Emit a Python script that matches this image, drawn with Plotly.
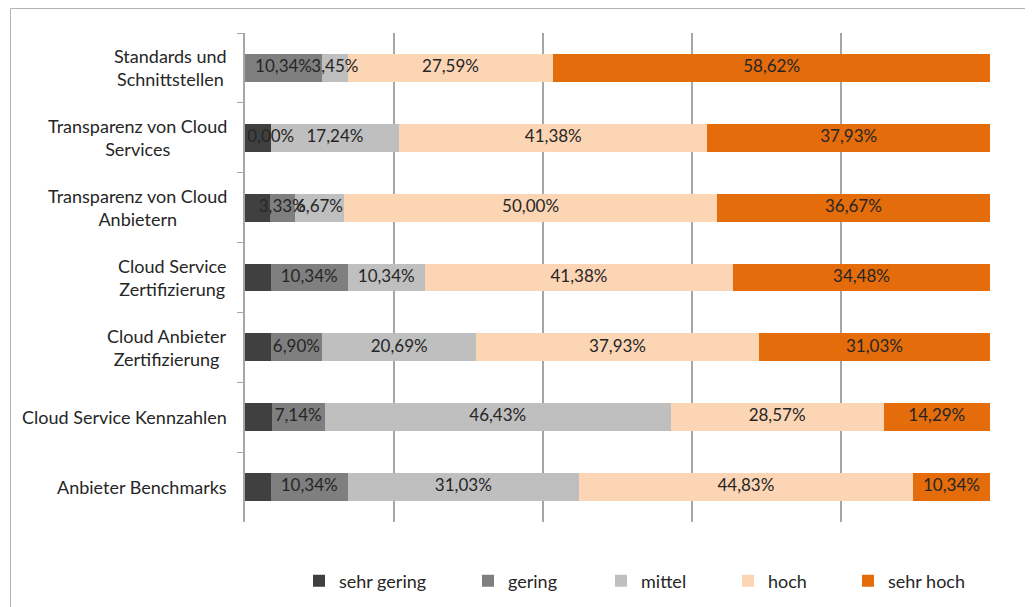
import plotly.graph_objects as go

categories = [
    "Standards und<br>Schnittstellen",
    "Transparenz von Cloud<br>Services",
    "Transparenz von Cloud<br>Anbietern",
    "Cloud Service<br>Zertifizierung",
    "Cloud Anbieter<br>Zertifizierung",
    "Cloud Service Kennzahlen",
    "Anbieter Benchmarks",
]
series_names = ["sehr gering", "gering", "mittel", "hoch", "sehr hoch"]
sehr_gering = [0.00, 3.45, 3.33, 3.45, 3.45, 3.57, 3.45]
gering = [10.34, 0.00, 3.33, 10.34, 6.90, 7.14, 10.34]
mittel = [3.45, 17.24, 6.67, 10.34, 20.69, 46.43, 31.03]
hoch = [27.59, 41.38, 50.00, 41.38, 37.93, 28.57, 44.83]
sehr_hoch = [58.62, 37.93, 36.67, 34.48, 31.03, 14.29, 10.34]
show_labels = [False, True, True, True, True]
colors = ["#404040", "#7f7f7f", "#bfbfbf", "#fcd5b5", "#e46c0a"]

series = [sehr_gering, gering, mittel, hoch, sehr_hoch]

# page-pixel geometry of the plot area (page has an 8px body margin)
PL, PR, PT, PB = 245, 990, 33, 522
OFF = 8
W, H = 1033 - OFF, 607 - OFF


def px_x(p):
    return (p - PL) / (PR - PL)


def px_y(p):
    return (PB - p) / (PB - PT)


def cx(p):
    return (p - OFF) / W


def cy(p):
    return (OFF + H - p) / H


legend_left = [313, 482, 615, 742, 862]
legend_ids = ["legend", "legend2", "legend3", "legend4", "legend5"]
FONT = "Lato"
TXT = "#262626"

fig = go.Figure()
for name, vals, col, lid in zip(series_names, series, colors, legend_ids):
    fig.add_trace(go.Bar(
        y=categories, x=vals, name=name, orientation="h",
        marker=dict(color=col, line=dict(width=0)),
        textposition="none", hoverinfo="x+name", legend=lid,
    ))

# labels at segment centres
base = [0.0] * len(categories)
for vals, show in zip(series, show_labels):
    mids = [b + v / 2 for b, v in zip(base, vals)]
    if show:
        fig.add_trace(go.Scatter(
            y=categories, x=mids, mode="text",
            text=[f"{v:.2f}%".replace(".", ",") for v in vals],
            textfont=dict(family=FONT, size=17, color=TXT),
            showlegend=False, hoverinfo="skip",
        ))
    base = [b + v for b, v in zip(base, vals)]

for c in categories:
    fig.add_annotation(
        x=px_x(229), xref="paper", y=c, yref="y", text=c, showarrow=False,
        xanchor="right", align="center",
        font=dict(family=FONT, size=18, color=TXT),
    )

fig.add_shape(type="rect", xref="paper", yref="paper",
              x0=px_x(10.5), x1=px_x(1060), y0=px_y(640), y1=px_y(8.5),
              line=dict(color="#b4b4b4", width=1), fillcolor="rgba(0,0,0,0)", layer="below")

legends = {}
for lid, lx in zip(legend_ids, legend_left):
    legends[lid] = dict(
        xref="container", yref="container",
        x=cx(lx - 14), y=cy(581), xanchor="left", yanchor="middle",
        orientation="h", bgcolor="rgba(0,0,0,0)",
        font=dict(family=FONT, size=18, color=TXT),
    )

fig.update_layout(
    width=W, height=H,
    margin=dict(l=PL - OFF, r=W - (PR - OFF), t=PT - OFF, b=H - (PB - OFF)),
    barmode="stack", bargap=0.6,
    plot_bgcolor="white", paper_bgcolor="white",
    font=dict(family=FONT, size=18, color=TXT),
    xaxis=dict(range=[0, 100], dtick=20, showgrid=True, gridcolor="#a6a6a6", gridwidth=1.5,
               showticklabels=False, zeroline=False, showline=False, fixedrange=True),
    yaxis=dict(autorange="reversed", showticklabels=False, ticks="outside", tickson="boundaries",
               ticklen=6, tickcolor="#a6a6a6", showline=True, linecolor="#a6a6a6", linewidth=1.5,
               showgrid=False),
    showlegend=True,
    **legends,
)

fig.write_html("out.html")
